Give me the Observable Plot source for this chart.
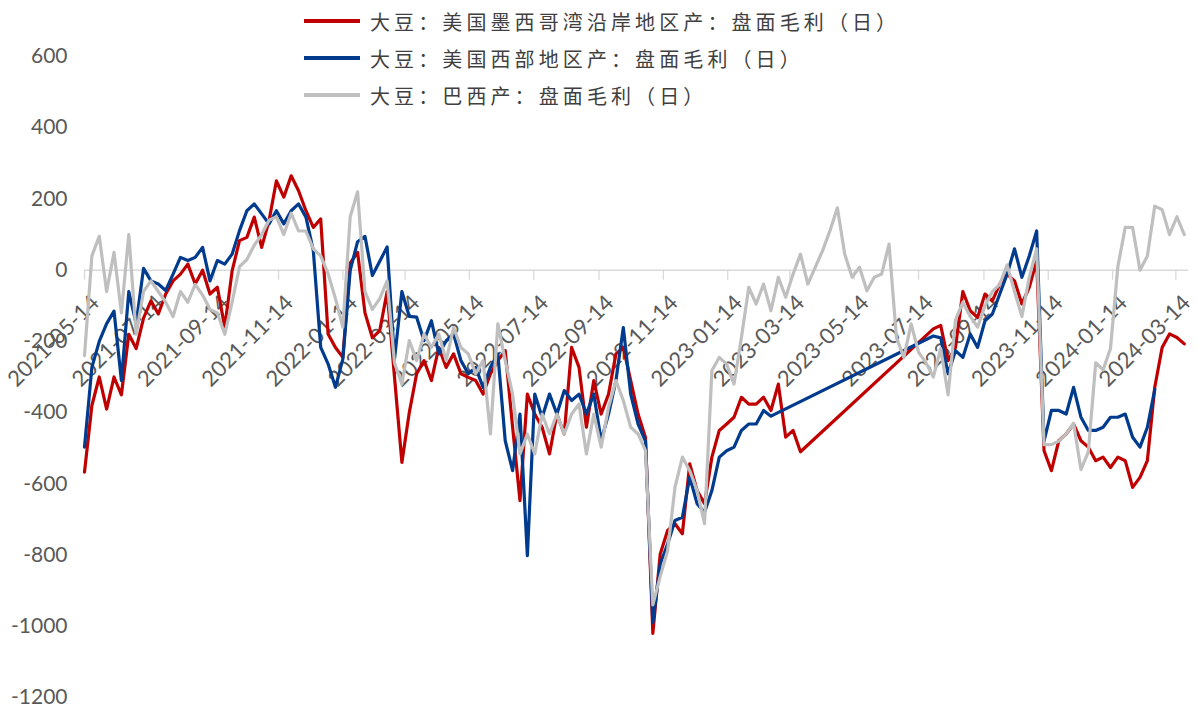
<!DOCTYPE html>
<html>
<head>
<meta charset="utf-8">
<script src="https://cdn.jsdelivr.net/npm/d3@7"></script>
<script src="https://cdn.jsdelivr.net/npm/@observablehq/plot@0.6"></script>
<style>
  html, body { margin: 0; padding: 0; background: #ffffff; }
  #chart { position: relative; width: 1197px; height: 709px; overflow: hidden; }
  #legend { position: absolute; left: 0; top: 0; }
  .lg-row { position: absolute; left: 304px; height: 30px; display: flex; align-items: center; white-space: nowrap; }
  .lg-sw { width: 56px; height: 4px; margin-right: 10px; }
  .lg-tx { font-family: "Noto Sans CJK SC", sans-serif; font-size: 20px; letter-spacing: 4.1px; color: #404040; }
</style>
</head>
<body>
<div id="chart"><div id="legend"></div></div>
<script>
// ---- weekly observation dates ----
const dates = [
"2021-05-14","2021-05-21","2021-05-28","2021-06-04","2021-06-11","2021-06-18","2021-06-25","2021-07-02","2021-07-09","2021-07-16",
"2021-07-23","2021-07-30","2021-08-06","2021-08-13","2021-08-20","2021-08-27","2021-09-03","2021-09-10","2021-09-17","2021-09-24",
"2021-10-01","2021-10-08","2021-10-15","2021-10-22","2021-10-29","2021-11-05","2021-11-12","2021-11-19","2021-11-26","2021-12-03",
"2021-12-10","2021-12-17","2021-12-24","2021-12-31",
"2022-01-07","2022-01-14","2022-01-21","2022-01-28","2022-02-04","2022-02-11","2022-02-18","2022-02-25","2022-03-04","2022-03-11",
"2022-03-18","2022-03-25","2022-04-01","2022-04-08","2022-04-15","2022-04-22","2022-04-29","2022-05-06","2022-05-13","2022-05-20",
"2022-05-27","2022-06-03","2022-06-10","2022-06-17","2022-06-24","2022-07-01","2022-07-08","2022-07-15","2022-07-22","2022-07-29",
"2022-08-05","2022-08-12","2022-08-19","2022-08-26","2022-09-02","2022-09-09","2022-09-16","2022-09-23","2022-09-30","2022-10-07",
"2022-10-14","2022-10-21","2022-10-28","2022-11-04","2022-11-11","2022-11-18","2022-11-25","2022-12-02","2022-12-09","2022-12-16",
"2022-12-23","2022-12-30",
"2023-01-06","2023-01-13","2023-01-20","2023-01-27","2023-02-03","2023-02-10","2023-02-17","2023-02-24","2023-03-03","2023-03-10",
"2023-03-17","2023-03-24","2023-03-31","2023-04-07","2023-04-14","2023-04-21","2023-04-28","2023-05-05","2023-05-12","2023-05-19",
"2023-05-26","2023-06-02","2023-06-09","2023-06-16","2023-06-23","2023-06-30","2023-07-07","2023-07-14","2023-07-21","2023-07-28",
"2023-08-04","2023-08-11","2023-08-18","2023-08-25","2023-09-01","2023-09-08","2023-09-15","2023-09-22","2023-09-29","2023-10-06",
"2023-10-13","2023-10-20","2023-10-27","2023-11-03","2023-11-10","2023-11-17","2023-11-24","2023-12-01","2023-12-08","2023-12-15",
"2023-12-22","2023-12-29",
"2024-01-05","2024-01-12","2024-01-19","2024-01-26","2024-02-02","2024-02-09","2024-02-16","2024-02-23","2024-03-01","2024-03-08",
"2024-03-15","2024-03-22"
];

// ---- series values (null = no data) ----
const usGulf = [
-567,-380,-300,-390,-300,-350,-180,-220,-135,-86,
-123,-67,-30,-11,17,-39,0,-67,-48,-160,
-2,83,92,149,64,139,251,205,265,223,
167,120,144,-179,-217,-245,20,50,-120,-190,
-170,-60,-300,-540,-400,-291,-254,-310,-217,-273,
-235,-291,-301,-310,-348,-291,-254,-226,-441,-647,
-348,-404,-441,-516,-404,-460,-217,-273,-441,-310,
-404,-348,-235,-217,-310,-404,-470,-1020,-797,-731,
-712,-740,-544,-619,-656,-525,-450,-432,-413,-357,
-376,-376,-357,-394,-320,-469,-450,-510,null,null,
null,null,null,null,null,null,null,null,null,null,
null,null,null,null,null,-165,-155,-254,-217,-60,
-114,-133,-67,-86,-39,-11,-30,-95,-48,27,
-507,-563,-479,-460,-432,-479,-497,-535,-525,-554,
-525,-535,-610,-582,-535,-329,-217,-179,-189,-207
];
const usWest = [
-497,-273,-200,-150,-115,-310,-60,-150,5,-30,
-39,-57,-11,36,27,36,64,-30,27,17,
45,111,167,186,158,130,167,130,167,186,
149,55,-217,-263,-329,-250,0,80,95,-15,
25,65,-250,-60,-130,-132,-198,-142,-235,-198,
-179,-254,-291,-273,-329,-273,-235,-479,-563,-404,
-802,-348,-413,-348,-404,-338,-366,-348,-404,-348,
-479,-404,-310,-161,-348,-432,-480,-990,-825,-769,
-703,-694,-581,-656,-680,-619,-525,-507,-497,-450,
-432,-432,-394,-410,null,null,null,null,null,null,
null,null,null,null,null,null,null,null,null,null,
null,null,null,null,null,-185,-190,-291,-226,-245,
-179,-217,-142,-123,-67,-11,60,-20,40,110,
-480,-394,-394,-404,-329,-413,-450,-450,-441,-413,
-413,-404,-469,-497,-441,-335,null,null,null,null
];
const brazil = [
-240,40,95,-60,50,-120,100,-180,-60,-30,
-60,-90,-130,-60,-90,-40,-70,-110,-120,-180,
-90,10,30,70,100,140,150,100,160,110,
110,60,40,-10,-80,-160,150,220,-60,-110,
-80,-30,-260,-320,-198,-254,-179,-217,-179,-254,
-161,-217,-235,-291,-254,-460,-151,-254,-348,-516,
-460,-516,-404,-460,-404,-460,-404,-376,-516,-404,
-497,-385,-310,-366,-441,-460,-507,-940,-860,-788,
-610,-525,-563,-619,-712,-282,-245,-264,-320,-189,
-48,-95,-39,-114,-20,-76,-11,45,-39,8,
55,111,175,45,-20,8,-58,-20,-11,73,
-189,-245,-151,-230,-260,-300,-220,-350,-140,-90,
-130,-160,-100,-60,-40,15,-60,-130,-20,60,
-490,-490,-480,-460,-430,-560,-510,-260,-280,-220,
10,120,120,0,40,180,170,100,150,100
];

const seriesNames = ["大豆：美国墨西哥湾沿岸地区产：盘面毛利（日）", "大豆：美国西部地区产：盘面毛利（日）", "大豆：巴西产：盘面毛利（日）"];
const seriesColors = ["#C00000", "#003B8E", "#BFBFBF"];
const tickLabels = ["2021-05-14","2021-07-14","2021-09-14","2021-11-14","2022-01-14","2022-03-14","2022-05-14","2022-07-14","2022-09-14","2022-11-14","2023-01-14","2023-03-14","2023-05-14","2023-07-14","2023-09-14","2023-11-14","2024-01-14","2024-03-14"];
const yTicks = [-1200,-1000,-800,-600,-400,-200,0,200,400,600];

// ---- build table ----
const allSeries = [usGulf, usWest, brazil];
const rows = [];
allSeries.forEach((vals, s) => {
  vals.forEach((v, i) => {
    if (v !== null) rows.push({date: new Date(dates[i] + "T00:00:00Z"), value: v, series: seriesNames[s]});
  });
});
const tickObjs = tickLabels.map(t => ({date: new Date(t + "T00:00:00Z"), label: t}));

const chart = Plot.plot({
  width: 1197,
  height: 709,
  marginLeft: 84,
  marginRight: 9,
  marginTop: 56,
  marginBottom: 12,
  style: {background: "transparent", overflow: "visible"},
  x: {type: "utc", domain: [new Date("2021-05-14T00:00:00Z"), new Date("2024-03-26T00:00:00Z")], axis: null},
  y: {domain: [-1200, 600], label: null},
  color: {domain: seriesNames, range: seriesColors},
  marks: [
    Plot.axisY(yTicks, {tickSize: 0, tickPadding: 17, tickFormat: d => String(d), fontSize: 21, fontFamily: "Lato, sans-serif", fill: "#595959", label: null}),
    Plot.ruleY([0], {stroke: "#D9D9D9", strokeWidth: 1.5}),
    Plot.ruleX(tickObjs, {x: "date", y1: 0, y2: -28, stroke: "#D9D9D9", strokeWidth: 1.3}),
    Plot.text(tickObjs, {x: "date", y: () => 0, text: "label", rotate: -45, textAnchor: "end", dx: 11, dy: 29, fontSize: 22, fontFamily: "Lato, sans-serif", fill: "#595959"}),
    Plot.line(rows, {x: "date", y: "value", z: "series", stroke: "series", strokeWidth: 3.2, strokeLinejoin: "round", strokeLinecap: "round"})
  ]
});
document.getElementById("chart").insertBefore(chart, document.getElementById("legend"));

// ---- legend ----
const legend = document.getElementById("legend");
const centers = [21, 58, 95];
seriesNames.forEach((name, i) => {
  const row = document.createElement("div");
  row.className = "lg-row";
  row.style.top = (centers[i] - 15) + "px";
  const sw = document.createElement("div");
  sw.className = "lg-sw";
  sw.style.background = seriesColors[i];
  const tx = document.createElement("span");
  tx.className = "lg-tx";
  tx.textContent = name;
  row.appendChild(sw);
  row.appendChild(tx);
  legend.appendChild(row);
});
</script>
</body>
</html>
